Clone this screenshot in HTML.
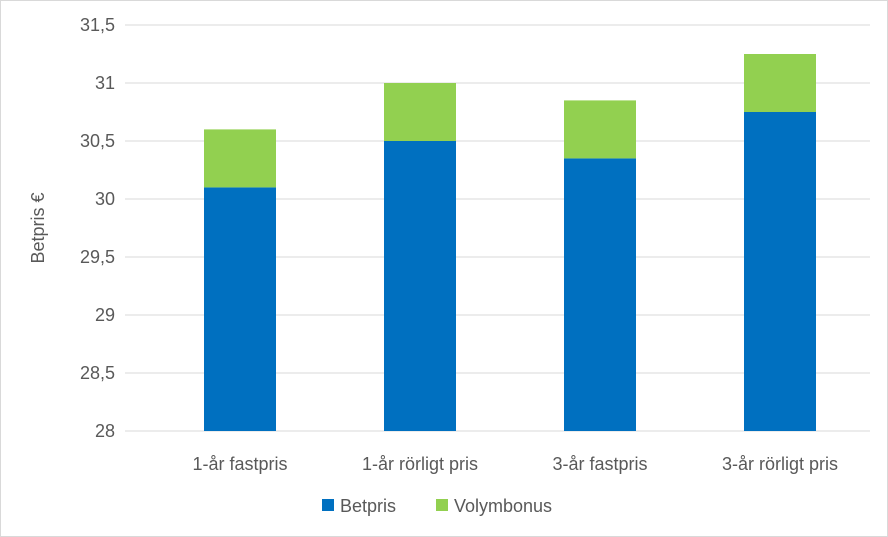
<!DOCTYPE html>
<html><head><meta charset="utf-8"><style>
body{margin:0;background:#fff}
svg{display:block;font-family:"Liberation Sans",sans-serif}
</style></head><body>
<svg id="chart" width="888" height="537">
<rect x="0.5" y="0.5" width="887" height="536" fill="#fff" stroke="#d9d9d9"/>
<g id="grid"></g><g id="bars"></g><g id="labels"></g>
<text x="44" y="228" transform="rotate(-90 44 228)" text-anchor="middle" font-size="18" fill="#595959">Betpris €</text>
<g>
<rect x="322" y="499" width="12" height="12" fill="#0070c0"/>
<text x="340" y="512" font-size="18" fill="#595959">Betpris</text>
<rect x="436" y="499" width="12" height="12" fill="#92d050"/>
<text x="454" y="512" font-size="18" fill="#595959">Volymbonus</text>
</g>
</svg>
<script>
const categories=["1-år fastpris","1-år rörligt pris","3-år fastpris","3-år rörligt pris"];
const betpris=[30.1,30.5,30.35,30.75];
const volymbonus=[0.5,0.5,0.5,0.5];
const ticks=[28,28.5,29,29.5,30,30.5,31,31.5];
const tickLabels=["28","28,5","29","29,5","30","30,5","31","31,5"];
const NS="http://www.w3.org/2000/svg";
const gx0=125,x0=150,x1=870,y0=431,y1=25,yMin=28,yMax=31.5;
function y(v){return y0-(v-yMin)/(yMax-yMin)*(y0-y1);}
function xc(i){const w=(x1-x0)/categories.length;return x0+w*(i+0.5);}
function mk(t,a,p){const e=document.createElementNS(NS,t);for(const k in a)e.setAttribute(k,a[k]);p.appendChild(e);return e;}
const g=document.getElementById('grid'),b=document.getElementById('bars'),l=document.getElementById('labels');
ticks.forEach((t,i)=>{
 const ln=mk('line',{x1:gx0,x2:x1,y1:y(t),y2:y(t),stroke:'#d9d9d9','stroke-width':1},g);
 
 
 const tx=mk('text',{x:115,y:y(t)+6,'text-anchor':'end','font-size':18,fill:'#595959'},l);
 tx.textContent=tickLabels[i];
 
 
});
const bw=72;
categories.forEach((c,i)=>{
 const r1=mk('rect',{x:xc(i)-bw/2,y:y(betpris[i]),width:bw,height:y(yMin)-y(betpris[i]),fill:'#0070c0'},b);
 
 
 const top=betpris[i]+volymbonus[i];
 const r2=mk('rect',{x:xc(i)-bw/2,y:y(top),width:bw,height:y(betpris[i])-y(top),fill:'#92d050'},b);
 
 
 const tx=mk('text',{x:xc(i),y:470,'text-anchor':'middle','font-size':18,fill:'#595959'},l);
 tx.textContent=c;
 
 
});
</script>
</body></html>
